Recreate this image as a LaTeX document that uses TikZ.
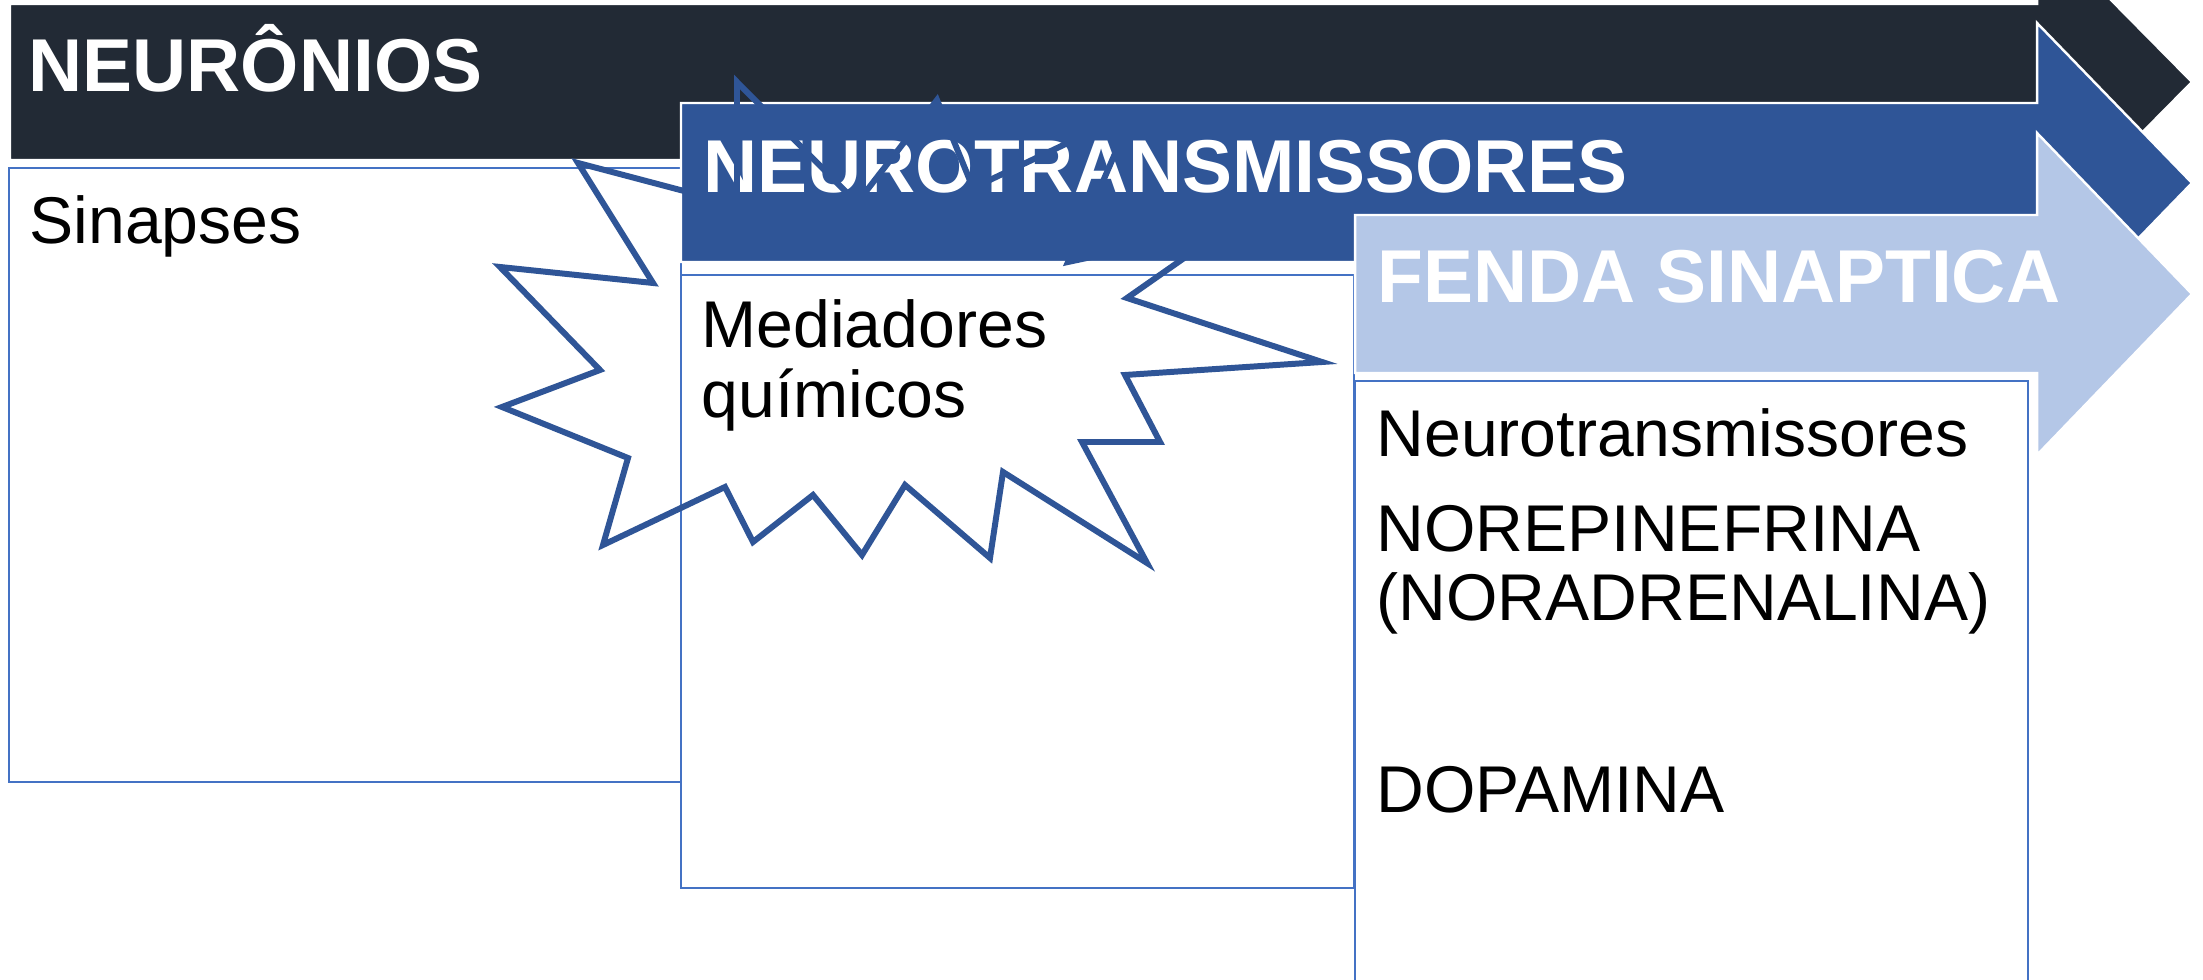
\documentclass[tikz,border=0pt]{standalone}
\usepackage{fontspec}
\setmainfont{Liberation Sans}
\definecolor{darkbar}{HTML}{222A35}
\definecolor{midblue}{HTML}{2F5597}
\definecolor{lightblue}{HTML}{B4C7E7}
\definecolor{boxblue}{HTML}{4472C4}
\definecolor{starblue}{HTML}{2F5597}
\tikzset{
  arrowshape/.style={draw=white, line width=0.7pt, line join=miter},
  textbox/.style={draw=boxblue, fill=white, line width=0.75pt},
  headtext/.style={inner sep=0pt, anchor=base west, text=white, font=\bfseries\fontsize{21.3}{24}\selectfont},
  bodytext/.style={inner sep=0pt, anchor=base west, text=black, font=\fontsize{18.8}{20}\selectfont},
  burst/.style={draw=starblue, line width=1.7pt, line join=miter, miter limit=20}
}
\begin{document}
\begin{tikzpicture}[x=0.01cm, y=-0.01cm]
\useasboundingbox (0,0) rectangle (2203,980);
\clip (0,0) rectangle (2203,980);
\fill[white] (0,0) rectangle (2203,980);

% level 1: dark arrow
\path[arrowshape, fill=darkbar] (10,4) -- (2037,4) -- (2037,-75) -- (2192,82) -- (2037,239) -- (2037,160) -- (10,160) -- cycle;
\path[textbox] (9,168) rectangle (681,782);
\node[headtext] (h1) at (28,92) {NEURÔNIOS};
\node[bodytext] (t1) at (29,244) {Sinapses};

% level 2: medium blue arrow
\path[arrowshape, fill=midblue] (681,103) -- (2037,103) -- (2037,23) -- (2192,183) -- (2037,343) -- (2037,262) -- (681,262) -- cycle;
\path[textbox] (681,275) rectangle (1354,888);
\node[headtext] (h2) at (703,193) {NEUROTRANSMISSORES};
\node[bodytext] (t2a) at (701,348) {Mediadores};
\node[bodytext] (t2b) at (701,418) {químicos};

% level 3: light blue arrow
\path[arrowshape, fill=lightblue] (1355,215) -- (2037,215) -- (2037,133) -- (2192,294) -- (2037,455) -- (2037,373) -- (1355,373) -- cycle;
\path[textbox] (1355,381) rectangle (2028,1010);
\node[headtext] (h3) at (1377,303) {FENDA SINAPTICA};
\node[bodytext] (t3a) at (1376,457) {Neurotransmissores};
\node[bodytext] (t3b) at (1376,552) {NOREPINEFRINA};
\node[bodytext] (t3c) at (1376,621) {(NORADRENALINA)};
\node[bodytext] (t3d) at (1376,813) {DOPAMINA};

% explosion outline
\draw[burst] (578,163) -- (737,205) -- (737,82) -- (857,203) -- (937,100) -- (973,188)
  -- (1133,112) -- (1068,262) -- (1227,228) -- (1127,298) -- (1322,362) -- (1125,375)
  -- (1160,442) -- (1082,442) -- (1147,563) -- (1003,472) -- (990,558) -- (905,485)
  -- (862,555) -- (813,495) -- (753,542) -- (725,487) -- (603,545) -- (628,458)
  -- (502,407) -- (600,370) -- (500,267) -- (653,283) -- cycle;
\end{tikzpicture}
\end{document}
